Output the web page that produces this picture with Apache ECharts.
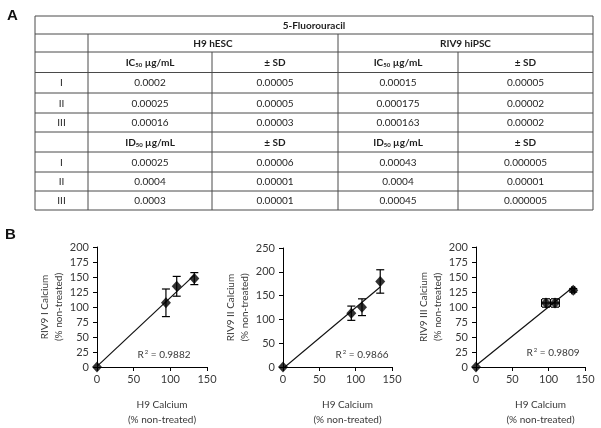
<!DOCTYPE html>
<html>
<head>
<meta charset="utf-8">
<script src="https://cdn.jsdelivr.net/npm/echarts@6/dist/echarts.min.js"></script>
<style>
html,body{margin:0;padding:0;background:#fff;}
#c{width:601px;height:428px;}
</style>
</head>
<body>
<div id="c"></div>
<script>
// ---------- Table data ----------
const tableTitle = '5-Fluorouracil';
const cellLines = ['H9 hESC', 'RIV9 hiPSC'];
const rowLabels = ['I', 'II', 'III'];
const ic50H9 = ['0.0002', '0.00025', '0.00016'];
const ic50H9SD = ['0.00005', '0.00005', '0.00003'];
const ic50RIV9 = ['0.00015', '0.000175', '0.000163'];
const ic50RIV9SD = ['0.00005', '0.00002', '0.00002'];
const id50H9 = ['0.00025', '0.0004', '0.0003'];
const id50H9SD = ['0.00006', '0.00001', '0.00001'];
const id50RIV9 = ['0.00043', '0.0004', '0.00045'];
const id50RIV9SD = ['0.000005', '0.00001', '0.000005'];

// ---------- Scatter data ----------
const h9CalciumI = [0, 94, 108.7, 132.7];
const riv9CalciumI = [0, 107, 134.5, 147.3];
const riv9ErrI = [0, 23, 16.5, 10];
const h9ErrI = [0, 0, 0, 0];

const h9CalciumII = [0, 94, 108.7, 133.8];
const riv9CalciumII = [0, 113, 125.6, 179.7];
const riv9ErrII = [0, 15, 17.6, 24.6];
const h9ErrII = [0, 0, 0, 0];

const h9CalciumIII = [0, 96.3, 108.7, 133.8];
const riv9CalciumIII = [0, 106.7, 106.7, 127.8];
const riv9ErrIII = [0, 7, 7, 3];
const h9ErrIII = [0, 6, 6, 2];

const yTitles = ['RIV9 I Calcium', 'RIV9 II Calcium', 'RIV9 III Calcium'];
const xTitle = 'H9 Calcium';
const subTitle = '(% non-treated)';
const r2Values = ['0.9882', '0.9866', '0.9809'];
const yMax = [200, 250, 200];
const yStep = [25, 50, 25];

const FONT = 'Lato, "Open Sans", sans-serif';
const TXT = '#383838';

// ---------- Table graphic ----------
const colX = [35, 88, 212, 338, 458, 593];
const rowY = [16, 34, 52, 72.5, 93, 113, 132, 152, 172, 191, 210];
const gfx = [];
const lineStyle = {stroke: '#4a4a4a', lineWidth: 1};
function hline(x1, x2, y) { gfx.push({type: 'line', shape: {x1, y1: y, x2, y2: y}, style: lineStyle, silent: true}); }
function vline(x, y1, y2) { gfx.push({type: 'line', shape: {x1: x, y1, x2: x, y2}, style: lineStyle, silent: true}); }
rowY.forEach(y => hline(colX[0], colX[5], y));
vline(colX[0], rowY[0], rowY[10]);
vline(colX[5], rowY[0], rowY[10]);
vline(colX[1], rowY[1], rowY[10]);
vline(colX[3], rowY[1], rowY[10]);
vline(colX[2], rowY[2], rowY[10]);
vline(colX[4], rowY[2], rowY[10]);

const rich = {
  b: {fontFamily: FONT, fontSize: 10, fontWeight: 'bold', fill: '#1e1e1e'},
  n: {fontFamily: FONT, fontSize: 10, fill: '#1e1e1e'},
  s: {fontFamily: FONT, fontSize: 6, fontWeight: 'bold', fill: '#1e1e1e', padding: [5, 0, 0, 0]}
};
function cellText(c1, c2, r, text) {
  gfx.push({
    type: 'text', silent: true,
    x: (colX[c1] + colX[c2]) / 2, y: (rowY[r] + rowY[r + 1]) / 2 + 0.5,
    style: {text, rich, align: 'center', verticalAlign: 'middle', font: '10px ' + FONT, fill: '#1e1e1e'}
  });
}
cellText(0, 5, 0, '{b|' + tableTitle + '}');
cellText(1, 3, 1, '{b|' + cellLines[0] + '}');
cellText(3, 5, 1, '{b|' + cellLines[1] + '}');
function headerRow(r, prefix) {
  cellText(1, 2, r, '{b|' + prefix + '}{s|50}{b| µg/mL}');
  cellText(2, 3, r, '{b|± SD}');
  cellText(3, 4, r, '{b|' + prefix + '}{s|50}{b| µg/mL}');
  cellText(4, 5, r, '{b|± SD}');
}
headerRow(2, 'IC');
headerRow(6, 'ID');
function dataRows(start, a, b, c, d) {
  for (let i = 0; i < 3; i++) {
    const r = start + i;
    cellText(0, 1, r, '{n|' + rowLabels[i] + '}');
    cellText(1, 2, r, '{n|' + a[i] + '}');
    cellText(2, 3, r, '{n|' + b[i] + '}');
    cellText(3, 4, r, '{n|' + c[i] + '}');
    cellText(4, 5, r, '{n|' + d[i] + '}');
  }
}
dataRows(3, ic50H9, ic50H9SD, ic50RIV9, ic50RIV9SD);
dataRows(7, id50H9, id50H9SD, id50RIV9, id50RIV9SD);

// Panel letters
gfx.push({type: 'text', x: 7, y: 8, style: {text: 'A', font: 'bold 15px "Liberation Sans", Arial, sans-serif', fill: '#111'}});
gfx.push({type: 'text', x: 5, y: 227, style: {text: 'B', font: 'bold 15px "Liberation Sans", Arial, sans-serif', fill: '#111'}});

// ---------- Charts ----------
const grids = [
  {left: 97, top: 247, width: 110, height: 120},
  {left: 283, top: 248, width: 109, height: 119},
  {left: 476, top: 247, width: 109, height: 120}
];
const r2Pos = [[164, 355], [362, 355], [553, 353]];
const panels = [
  {x: h9CalciumI, y: riv9CalciumI, ex: h9ErrI, ey: riv9ErrI},
  {x: h9CalciumII, y: riv9CalciumII, ex: h9ErrII, ey: riv9ErrII},
  {x: h9CalciumIII, y: riv9CalciumIII, ex: h9ErrIII, ey: riv9ErrIII}
];

function fit(xs, ys) {
  const n = xs.length;
  const mx = xs.reduce((a, b) => a + b, 0) / n;
  const my = ys.reduce((a, b) => a + b, 0) / n;
  let sxx = 0, sxy = 0;
  for (let i = 0; i < n; i++) { sxx += (xs[i] - mx) ** 2; sxy += (xs[i] - mx) * (ys[i] - my); }
  const m = sxy / sxx;
  return {m, b: my - m * mx};
}

const xAxes = [], yAxes = [], series = [];
panels.forEach((p, i) => {
  xAxes.push({
    gridIndex: i, type: 'value', min: 0, max: 150, interval: 50,
    axisLine: {show: true, lineStyle: {color: '#000', width: 1}},
    axisTick: {show: true, length: 4, lineStyle: {color: '#000'}},
    axisLabel: {color: TXT, fontFamily: FONT, fontSize: 11, margin: 7},
    splitLine: {show: false},
    name: xTitle + '\n' + subTitle, nameLocation: 'middle', nameGap: 30,
    nameTextStyle: {color: TXT, fontFamily: FONT, fontSize: 10, lineHeight: 15, padding: [0, 0, 0, 20]}
  });
  yAxes.push({
    gridIndex: i, type: 'value', min: 0, max: yMax[i], interval: yStep[i],
    axisLine: {show: true, lineStyle: {color: '#000', width: 1}},
    axisTick: {show: true, length: 4, lineStyle: {color: '#000'}},
    axisLabel: {color: TXT, fontFamily: FONT, fontSize: 11, margin: 8},
    splitLine: {show: false},
    name: yTitles[i] + '\n' + subTitle, nameLocation: 'middle', nameGap: 28, nameRotate: 90,
    nameTextStyle: {color: TXT, fontFamily: FONT, fontSize: 10, lineHeight: 14}
  });
  const f = fit(p.x, p.y);
  const xmin = Math.min(...p.x), xmax = Math.max(...p.x);
  series.push({
    type: 'line', xAxisIndex: i, yAxisIndex: i, symbol: 'none', silent: true,
    lineStyle: {color: '#111', width: 1.2}, z: 2,
    data: [[xmin, f.m * xmin + f.b], [xmax, f.m * xmax + f.b]]
  });
  series.push({
    type: 'custom', xAxisIndex: i, yAxisIndex: i, z: 3, silent: true,
    data: p.x.map((v, k) => [v, p.y[k], p.ex[k], p.ey[k]]),
    renderItem: function (params, api) {
      const x = api.value(0), y = api.value(1), ex = api.value(2), ey = api.value(3);
      const children = [];
      const st = {stroke: '#000', lineWidth: 1.2};
      const cap = 4;
      if (ey > 0) {
        const t = api.coord([x, y + ey]), b = api.coord([x, y - ey]);
        children.push({type: 'line', shape: {x1: t[0], y1: t[1], x2: b[0], y2: b[1]}, style: st});
        children.push({type: 'line', shape: {x1: t[0] - cap, y1: t[1], x2: t[0] + cap, y2: t[1]}, style: st});
        children.push({type: 'line', shape: {x1: b[0] - cap, y1: b[1], x2: b[0] + cap, y2: b[1]}, style: st});
      }
      if (ex > 0) {
        const l = api.coord([x - ex, y]), r = api.coord([x + ex, y]);
        children.push({type: 'line', shape: {x1: l[0], y1: l[1], x2: r[0], y2: r[1]}, style: st});
        children.push({type: 'line', shape: {x1: l[0], y1: l[1] - cap, x2: l[0], y2: l[1] + cap}, style: st});
        children.push({type: 'line', shape: {x1: r[0], y1: r[1] - cap, x2: r[0], y2: r[1] + cap}, style: st});
      }
      return {type: 'group', children};
    }
  });
  series.push({
    type: 'scatter', xAxisIndex: i, yAxisIndex: i, symbol: 'diamond', symbolSize: [10, 11],
    itemStyle: {color: '#000'}, z: 4, clip: false, silent: true,
    data: p.x.map((v, k) => [v, p.y[k]])
  });
  gfx.push({
    type: 'text', x: r2Pos[i][0], y: r2Pos[i][1],
    style: {
      text: '{a|R}{p|2}{a| = ' + r2Values[i] + '}', align: 'center', verticalAlign: 'middle',
      rich: {
        a: {fontFamily: FONT, fontSize: 10, fill: TXT},
        p: {fontFamily: FONT, fontSize: 6, fill: TXT, padding: [0, 0, 5, 1]}
      }
    }
  });
});

const chart = echarts.init(document.getElementById('c'), null, {renderer: 'canvas'});
chart.setOption({
  backgroundColor: '#fff',
  animation: false,
  grid: grids,
  xAxis: xAxes,
  yAxis: yAxes,
  series: series,
  graphic: gfx
});
</script>
</body>
</html>
